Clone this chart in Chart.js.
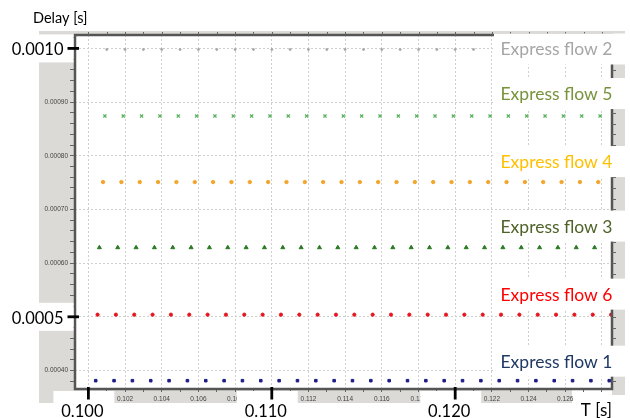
<!DOCTYPE html>
<html><head><meta charset="utf-8">
<script src="https://cdn.jsdelivr.net/npm/chart.js@4/dist/chart.umd.min.js"></script>
<style>html,body{margin:0;padding:0;background:#fff}#wrap{width:630px;height:418px;position:relative}canvas{display:block}</style>
</head><body><div id="wrap"><canvas id="c" width="630" height="418"></canvas></div>
<script>
// ---------- DATA ----------
const seriesNames = ['Express flow 1','Express flow 6','Express flow 3','Express flow 4','Express flow 5','Express flow 2'];

const flow1Time  = [0.1004,0.1014,0.1024,0.1034,0.1044,0.1054,0.1064,0.1074,0.1084,0.1094,0.1104,0.1114,0.1124,0.1134,0.1144,0.1154,0.1164,0.1174,0.1184,0.1194,0.1204,0.1214,0.1224,0.1234,0.1244,0.1254,0.1264,0.1274,0.1284];
const flow1Delay = [0.000381,0.000381,0.000381,0.000381,0.000381,0.000381,0.000381,0.000381,0.000381,0.000381,0.000381,0.000381,0.000381,0.000381,0.000381,0.000381,0.000381,0.000381,0.000381,0.000381,0.000381,0.000381,0.000381,0.000381,0.000381,0.000381,0.000381,0.000381,0.000381];

const flow6Time  = [0.1005,0.1015,0.1025,0.1035,0.1045,0.1055,0.1065,0.1075,0.1085,0.1095,0.1105,0.1115,0.1125,0.1135,0.1145,0.1155,0.1165,0.1175,0.1185,0.1195,0.1205,0.1215,0.1225,0.1235,0.1245,0.1255,0.1265,0.1275,0.1285];
const flow6Delay = [0.000504,0.000504,0.000504,0.000504,0.000504,0.000504,0.000504,0.000504,0.000504,0.000504,0.000504,0.000504,0.000504,0.000504,0.000504,0.000504,0.000504,0.000504,0.000504,0.000504,0.000504,0.000504,0.000504,0.000504,0.000504,0.000504,0.000504,0.000504,0.000504];

const flow3Time  = [0.1006,0.1016,0.1026,0.1036,0.1046,0.1056,0.1066,0.1076,0.1086,0.1096,0.1106,0.1116,0.1126,0.1136,0.1146,0.1156,0.1166,0.1176,0.1186,0.1196,0.1206,0.1216,0.1226,0.1236,0.1246,0.1256,0.1266,0.1276];
const flow3Delay = [0.000629,0.000629,0.000629,0.000629,0.000629,0.000629,0.000629,0.000629,0.000629,0.000629,0.000629,0.000629,0.000629,0.000629,0.000629,0.000629,0.000629,0.000629,0.000629,0.000629,0.000629,0.000629,0.000629,0.000629,0.000629,0.000629,0.000629,0.000629];

const flow4Time  = [0.1008,0.1018,0.1028,0.1038,0.1048,0.1058,0.1068,0.1078,0.1088,0.1098,0.1108,0.1118,0.1128,0.1138,0.1148,0.1158,0.1168,0.1178,0.1188,0.1198,0.1208,0.1218,0.1228,0.1238,0.1248,0.1258,0.1268,0.1278];
const flow4Delay = [0.000751,0.000751,0.000751,0.000751,0.000751,0.000751,0.000751,0.000751,0.000751,0.000751,0.000751,0.000751,0.000751,0.000751,0.000751,0.000751,0.000751,0.000751,0.000751,0.000751,0.000751,0.000751,0.000751,0.000751,0.000751,0.000751,0.000751,0.000751];

const flow5Time  = [0.1009,0.1019,0.1029,0.1039,0.1049,0.1059,0.1069,0.1079,0.1089,0.1099,0.1109,0.1119,0.1129,0.1139,0.1149,0.1159,0.1169,0.1179,0.1189,0.1199,0.1209,0.1219,0.1229,0.1239,0.1249,0.1259,0.1269,0.1279];
const flow5Delay = [0.000874,0.000874,0.000874,0.000874,0.000874,0.000874,0.000874,0.000874,0.000874,0.000874,0.000874,0.000874,0.000874,0.000874,0.000874,0.000874,0.000874,0.000874,0.000874,0.000874,0.000874,0.000874,0.000874,0.000874,0.000874,0.000874,0.000874,0.000874];

const flow2Time  = [0.1010,0.1020,0.1030,0.1040,0.1050,0.1060,0.1070,0.1080,0.1090,0.1100,0.1110,0.1120,0.1130,0.1140,0.1150,0.1160,0.1170,0.1180,0.1190,0.1200,0.1210];
const flow2Delay = [0.000998,0.000998,0.000998,0.000998,0.000998,0.000998,0.000998,0.000998,0.000998,0.000998,0.000998,0.000998,0.000998,0.000998,0.000998,0.000998,0.000998,0.000998,0.000998,0.000998,0.000998];

const seriesTimes  = [flow1Time, flow6Time, flow3Time, flow4Time, flow5Time, flow2Time];
const seriesDelays = [flow1Delay, flow6Delay, flow3Delay, flow4Delay, flow5Delay, flow2Delay];

// axis ranges and tick labels
const xRange = [0.09927, 0.12855];
const yRange = [0.0003655, 0.001025];
const xSmallTickValues = [0.102,0.104,0.106,0.108,0.112,0.114,0.116,0.118,0.122,0.124,0.126];
const xSmallTickLabels = ['0.102','0.104','0.106','0.108','0.112','0.114','0.116','0.118','0.122','0.124','0.126'];
const xGridValues = [0.100,0.102,0.104,0.106,0.108,0.110,0.112,0.114,0.116,0.118,0.120,0.122,0.124,0.126,0.128];
const ySmallTickValues = [0.0004,0.0005,0.0006,0.0007,0.0008,0.0009,0.0010];
const ySmallTickLabels = ['0.00040','0.00050','0.00060','0.00070','0.00080','0.00090','0.00100'];
const xBigTickValues = [0.100, 0.110, 0.120];
const xBigTickLabels = ['0.100','0.110','0.120'];
const yBigTickValues = [0.0010, 0.0005];
const yBigTickLabels = ['0.0010','0.0005'];
const yTitle = 'Delay [s]';
const xTitle = 'T [s]';

// ---------- STYLES ----------
const pointStyles = [
  {style:'rect', r:1.8, color:'#1c1c86', bw:1},
  {style:'circle', r:1.6, color:'#e8141e', bw:1},
  {style:'triangle', r:2.3, color:'#2b7a22', bw:1},
  {style:'circle', r:1.7, color:'#f3a52a', bw:1},
  {style:'crossRot', r:2.2, color:'#58b25a', bw:1.3},
  {style:'circle', r:1.0, color:'#a8a8a8', bw:1}
];
const labelColors = ['#1f3864','#ff0000','#4f6228','#ffc000','#77933c','#a6a6a6'];
const labelOffsets = [-13,-14,-15,-14,-16,6];
const GRAY = '#dbdad6';
const FRAME = '#555555';

const near = (a,b) => Math.abs(a-b) < 1e-9;

const datasets = seriesNames.map((name,i) => ({
  label: name,
  data: seriesTimes[i].map((t,j) => ({x:t, y:seriesDelays[i][j]})),
  showLine: false,
  pointStyle: pointStyles[i].style,
  pointRadius: pointStyles[i].r,
  pointBackgroundColor: pointStyles[i].color,
  pointBorderColor: pointStyles[i].color,
  pointBorderWidth: pointStyles[i].bw
}));

function minorTicks(start, end, step) {
  const out = [];
  const n = Math.round((end - start) / step);
  for (let k = 0; k <= n; k++) out.push(+(start + k*step).toFixed(8));
  return out;
}

const decor = {
  id: 'decor',
  beforeDraw(chart) {
    const c = chart.ctx;
    c.save();
    c.fillStyle = '#fff'; c.fillRect(0,0,chart.width,chart.height);
    c.fillStyle = GRAY;
    c.fillRect(39,31,36,365);
    c.fillRect(39,31,573,4);
    c.fillRect(39,389,533,14);
    c.fillRect(612,31,13,364);
    c.restore();
  },
  afterDraw(chart) {
    const c = chart.ctx, a = chart.chartArea;
    const xs = chart.scales.x, ys = chart.scales.y;
    c.save();
    // frame
    c.strokeStyle = FRAME; c.lineWidth = 2.5;
    c.strokeRect(a.left, a.top, a.right - a.left, a.bottom - a.top);
    // mirror ticks top & right
    c.lineWidth = 1; c.strokeStyle = '#666';
    minorTicks(0.100, 0.128, 0.001).forEach(v => {
      const px = Math.round(xs.getPixelForValue(v)) + 0.5;
      c.beginPath(); c.moveTo(px, a.top); c.lineTo(px, a.top - 3); c.stroke();
    });
    minorTicks(0.00038, 0.00102, 0.00002).forEach(v => {
      const py = Math.round(ys.getPixelForValue(v)) + 0.5;
      c.beginPath(); c.moveTo(a.right, py); c.lineTo(a.right + 4, py); c.stroke();
    });
    // white boxes behind big labels
    c.fillStyle = '#fff';
    yBigTickValues.forEach(v => {
      const py = ys.getPixelForValue(v);
      c.fillRect(0, py - 14, 73.5, 28);
    });
    xBigTickValues.forEach(v => {
      const px = xs.getPixelForValue(v);
      c.fillRect(px - 35, a.bottom + 2, 61, chart.height - a.bottom);
    });
    // series label boxes + text
    c.font = '17.5px Lato';
    c.textAlign = 'right'; c.textBaseline = 'alphabetic';
    seriesNames.forEach((name,i) => {
      const base = ys.getPixelForValue(seriesDelays[i][0]) + labelOffsets[i];
      const w = c.measureText(name).width;
      c.fillStyle = '#fff';
      c.fillRect(a.right - w - 6, base - 22, chart.width - (a.right - w - 6), 31);
    });
    seriesNames.forEach((name,i) => {
      const base = ys.getPixelForValue(seriesDelays[i][0]) + labelOffsets[i];
      c.fillStyle = labelColors[i];
      c.fillText(name, a.right + 0.5, base);
    });
    // big ticks
    c.strokeStyle = '#000'; c.lineWidth = 2.8;
    yBigTickValues.forEach(v => {
      const py = ys.getPixelForValue(v);
      c.beginPath(); c.moveTo(67.5, py); c.lineTo(79, py); c.stroke();
    });
    xBigTickValues.forEach(v => {
      const px = xs.getPixelForValue(v);
      c.beginPath(); c.moveTo(px, a.bottom - 2); c.lineTo(px, a.bottom + 10.5); c.stroke();
    });
    // big labels
    c.fillStyle = '#000';
    c.font = '16.5px Lato';
    c.textAlign = 'right';
    yBigTickValues.forEach((v,i) => {
      c.fillText(yBigTickLabels[i], 63.5, ys.getPixelForValue(v) + 6.8);
    });
    c.textAlign = 'center';
    xBigTickValues.forEach((v,i) => {
      c.fillText(xBigTickLabels[i], xs.getPixelForValue(v) - 6, 416.5);
    });
    // axis titles
    c.textAlign = 'left';
    c.font = '14.5px Lato';
    c.fillText(yTitle, 33, 22.5);
    c.font = '17px Lato';
    c.textAlign = 'right';
    c.fillText(xTitle, 612, 415.5);
    c.restore();
  }
};

new Chart(document.getElementById('c'), {
  type: 'scatter',
  data: { datasets },
  options: {
    responsive: false, animation: false, devicePixelRatio: 1,
    layout: { padding: { left: 0, top: 35, right: 18, bottom: 0 } },
    plugins: { legend: { display: false }, tooltip: { enabled: false } },
    scales: {
      x: {
        type: 'linear', position: 'bottom', min: xRange[0], max: xRange[1],
        afterBuildTicks: s => { s.ticks = minorTicks(0.100, 0.128, 0.001).map(v => ({value: v})); },
        afterFit: s => { s.height = 29; },
        ticks: {
          autoSkip: false, maxRotation: 0, minRotation: 0, padding: 3,
          font: { family: 'Liberation Sans', size: 6.5 }, color: '#444',
          callback: v => { const i = xSmallTickValues.findIndex(t => near(t, v)); return i >= 0 ? xSmallTickLabels[i] : ''; }
        },
        grid: {
          color: ctx => (ctx.tick && xGridValues.some(t => near(t, ctx.tick.value))) ? '#cfcfcf' : 'rgba(0,0,0,0)',
          tickColor: '#666', tickLength: 3, lineWidth: 1, drawTicks: true
        },
        border: { display: false, dash: [2, 2] }
      },
      y: {
        type: 'linear', position: 'left', min: yRange[0], max: yRange[1],
        afterBuildTicks: s => { s.ticks = minorTicks(0.00038, 0.00102, 0.00002).map(v => ({value: v})); },
        afterFit: s => { s.width = 75; },
        ticks: {
          autoSkip: false, padding: 2,
          font: { family: 'Liberation Sans', size: 6.5 }, color: '#444',
          callback: v => { const i = ySmallTickValues.findIndex(t => near(t, v)); return i >= 0 ? ySmallTickLabels[i] : ''; }
        },
        grid: {
          color: ctx => (ctx.tick && ySmallTickValues.some(t => near(t, ctx.tick.value))) ? '#cfcfcf' : 'rgba(0,0,0,0)',
          tickColor: '#666', tickLength: 5, lineWidth: 1, drawTicks: true
        },
        border: { display: false, dash: [2, 2] }
      }
    }
  },
  plugins: [decor]
});
</script>
</body></html>
